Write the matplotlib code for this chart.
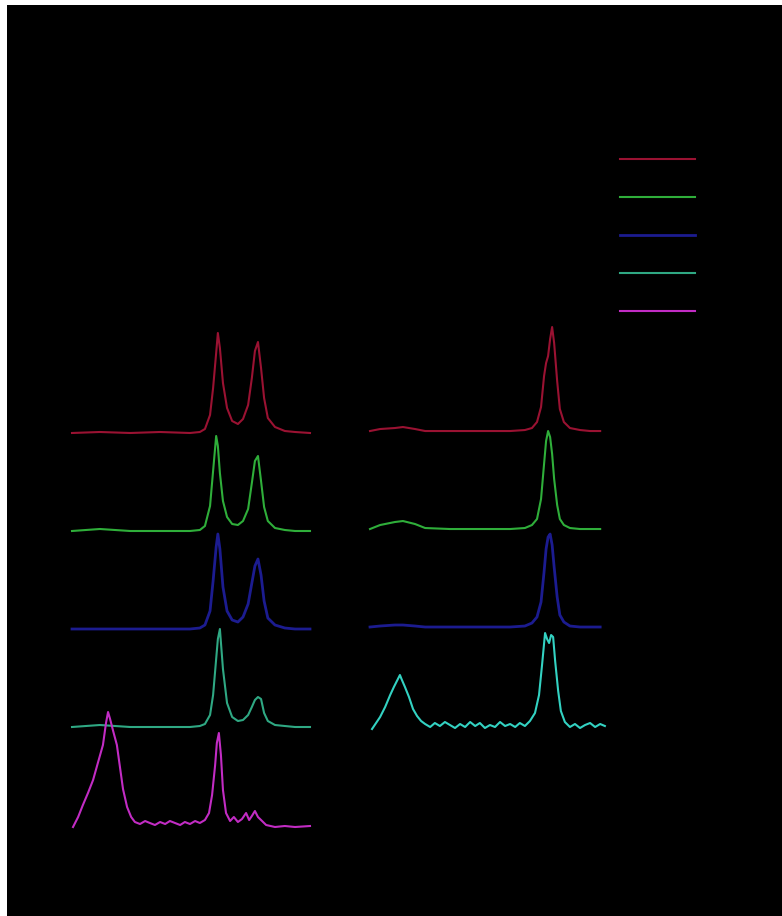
import numpy as np
import matplotlib
matplotlib.use("Agg")
import matplotlib.pyplot as plt

# ---- left panel: 5 stacked patterns (2theta, deg) ----
x_left = [10, 18.2, 27.1, 35.9, 44.7, 47.6, 49.1, 50.6, 51.5, 52.4, 52.9, 53.5, 54.4, 55.6,
          57.1, 58.8, 60.3, 61.8, 62.9, 63.8, 64.7, 65.6, 66.5, 67.6, 69.7, 72.6, 75.6, 80]
red_left = [0, 1, 0, 1, 0, 1, 4, 18, 45, 80, 100, 85, 50, 25,
            12, 9, 14, 28, 55, 82, 91, 65, 35, 15, 6, 2, 1, 0]
green_left = [0, 2, 0, 0, 0, 1, 5, 25, 60, 95, 85, 58, 30, 14,
              7, 6, 10, 22, 48, 70, 75, 50, 24, 10, 3, 1, 0, 0]
blue_left = [0, 0, 0, 0, 0, 1, 4, 18, 48, 82, 95, 80, 42, 18,
             9, 7, 12, 25, 46, 63, 70, 54, 28, 11, 4, 1, 0, 0]
teal_left = [0, 2, 0, 0, 0, 1, 3, 12, 32, 68, 88, 98, 58, 24,
             10, 6, 7, 12, 20, 27, 30, 28, 14, 6, 2, 1, 0, 0]

x_mag = [10.3, 11.8, 13.2, 14.7, 16.2, 17.6, 19.1, 20.0, 20.6, 21.2, 22.1, 23.2, 24.1, 25.0,
         26.2, 27.4, 28.5, 30.0, 31.5, 32.9, 34.4, 35.9, 37.4, 38.8, 40.3, 41.8, 43.2, 44.7,
         46.2, 47.6, 49.1, 50.3, 51.2, 52.1, 52.6, 53.2, 53.8, 54.4, 55.3, 56.5, 57.6, 58.8,
         60.0, 61.2, 62.1, 62.9, 63.8, 64.7, 65.9, 67.1, 69.7, 72.6, 75.6, 80.0]
magenta_left = [-2, 8, 20, 32, 45, 62, 80, 102, 113, 106, 94, 80, 58, 36,
                18, 8, 3, 1, 4, 2, 0, 3, 1, 4, 2, 0, 3, 1,
                4, 2, 5, 12, 30, 60, 82, 92, 70, 35, 12, 4, 8, 3,
                6, 12, 5, 9, 14, 8, 4, 0, -2, -1, -2, -1]

# ---- right panel: 4 stacked patterns ----
x_right = [10, 13.0, 17.4, 19.8, 23.4, 26.4, 33.8, 42.7, 51.7, 56.1, 58.2, 59.7, 60.9,
           61.8, 62.4, 63.0, 63.6, 64.2, 64.8, 65.7, 66.5, 67.7, 69.5, 72.5, 75.5, 78.5]
red_right = [0, 2, 3, 4, 2, 0, 0, 0, 0, 1, 3, 9, 24,
             55, 68, 75, 92, 104, 88, 50, 22, 9, 3, 1, 0, 0]
green_right = [0, 4, 7, 8, 5, 1, 0, 0, 0, 1, 4, 10, 30,
               65, 88, 98, 92, 75, 50, 24, 10, 4, 1, 0, 0, 0]
blue_right = [0, 1, 2, 2, 1, 0, 0, 0, 0, 1, 4, 10, 25,
              55, 78, 90, 93, 82, 60, 30, 12, 5, 1, 0, 0, 0]

x_cyan = [10.6, 11.8, 13.0, 14.5, 16.0, 17.1, 18.3, 18.9, 19.5, 20.4, 21.6, 22.8, 24.0, 25.2,
          26.4, 27.9, 29.3, 30.8, 32.3, 33.8, 35.3, 36.8, 38.3, 39.8, 41.3, 42.7, 44.2, 45.7,
          47.2, 48.7, 50.2, 51.7, 53.2, 54.6, 56.1, 57.6, 59.1, 60.3, 61.2, 62.1, 62.7, 63.3,
          63.9, 64.5, 65.1, 66.0, 66.8, 68.0, 69.5, 71.0, 72.5, 74.0, 75.5, 77.0, 78.5, 79.9]
cyan_right = [-4, 2, 8, 18, 30, 38, 46, 50, 45, 38, 28, 16, 9, 4,
              1, -2, 2, -1, 3, 0, -3, 1, -2, 3, -1, 2, -3, 0,
              -2, 3, -1, 1, -2, 2, -1, 4, 12, 30, 60, 92, 86, 82,
              90, 88, 64, 34, 14, 3, -2, 1, -3, 0, 2, -2, 1, -1]

c_red = "#9a1232"
c_green = "#2fae3a"
c_blue = "#1c1c90"
c_teal = "#2fa883"
c_magenta = "#c22cc4"
c_cyan = "#33d2c2"

W, H = 782, 916
fig = plt.figure(figsize=(W / 100, H / 100), dpi=100, facecolor="white")

# black canvas (thin white strip left over at top and left)
bg = fig.add_axes([7 / W, 0, (W - 7) / W, (H - 5) / H])
bg.set_facecolor("black")
bg.set_xticks([])
bg.set_yticks([])
for s in bg.spines.values():
    s.set_visible(False)


def box(x0, y0, x1, y1):
    return [x0 / W, 1 - y1 / H, (x1 - x0) / W, (y1 - y0) / H]


def scaled(v):
    return np.array(v) / 98.0


axL = fig.add_axes(box(70, 320, 312, 840))
axR = fig.add_axes(box(368, 320, 608, 740))
for ax in (axL, axR):
    ax.set_facecolor("none")
    ax.set_xticks([])
    ax.set_yticks([])
    for s in ax.spines.values():
        s.set_visible(False)

lw = 1.5
l1, = axL.plot(x_left, scaled(red_left) + 4, color=c_red, lw=lw, label="a")
l2, = axL.plot(x_left, scaled(green_left) + 3, color=c_green, lw=lw, label="b")
l3, = axL.plot(x_left, scaled(blue_left) + 2, color=c_blue, lw=lw + 0.5, label="c")
l4, = axL.plot(x_left, scaled(teal_left) + 1, color=c_teal, lw=lw, label="d")
l5, = axL.plot(x_mag, scaled(magenta_left), color=c_magenta, lw=lw, label="e")
axL.set_xlim(9.41, 80.59)
axL.set_ylim(-0.153, 5.153)

axR.plot(x_right, scaled(red_right) + 3, color=c_red, lw=lw)
axR.plot(x_right, scaled(green_right) + 2, color=c_green, lw=lw)
axR.plot(x_right, scaled(blue_right) + 1, color=c_blue, lw=lw + 0.5)
axR.plot(x_cyan, scaled(cyan_right), color=c_cyan, lw=lw)
axR.set_xlim(9.40, 80.83)
axR.set_ylim(-0.153, 4.133)

fig.legend(handles=[l1, l2, l3, l4, l5], loc="upper left",
           bbox_to_anchor=(620 / W, 1 - 153 / H), frameon=False,
           fontsize=10, labelcolor="black", handlelength=5.4,
           labelspacing=1.72, borderpad=0, borderaxespad=0, handletextpad=0.5)

fig.savefig("out.png", dpi=100, facecolor="white")
